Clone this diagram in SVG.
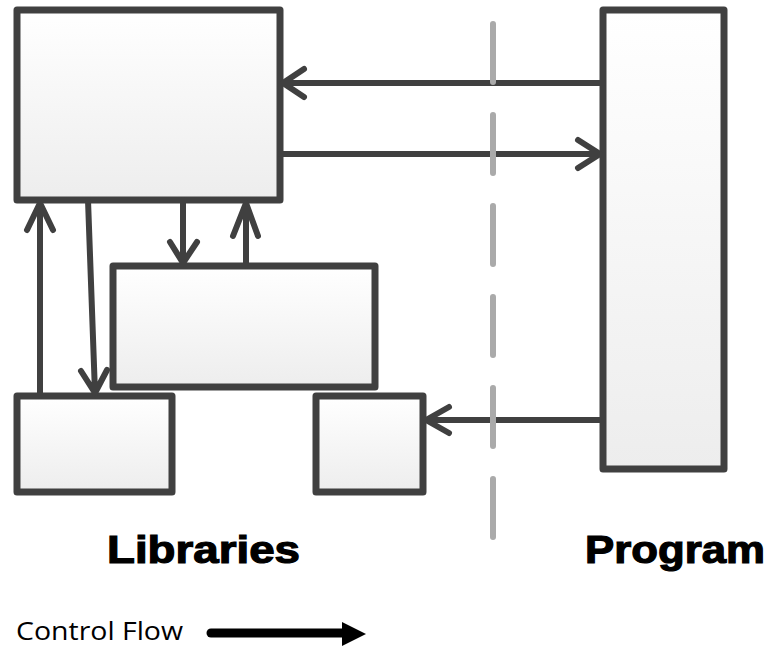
<svg xmlns="http://www.w3.org/2000/svg" width="768" height="648" viewBox="0 0 768 648">
<defs>
<linearGradient id="g" x1="0" y1="0" x2="0" y2="1">
<stop offset="0" stop-color="#ffffff"/>
<stop offset="1" stop-color="#ededed"/>
</linearGradient>
<style>
.box{fill:url(#g);stroke:#404040;stroke-width:7;stroke-linejoin:round}
.ln{fill:none;stroke:#404040;stroke-width:6;stroke-linecap:round;stroke-linejoin:round}
.dash{fill:none;stroke:#aaaaaa;stroke-width:6;stroke-linecap:round;stroke-dasharray:58 33}
.big{font-family:"Liberation Sans",Arial,sans-serif;font-weight:bold;font-size:39px;fill:#000;stroke:#000;stroke-width:1.2}
.leg{font-family:"Open Sans","Noto Sans",sans-serif;font-size:25px;fill:#000}
</style>
</defs>
<rect width="768" height="648" fill="#ffffff"/>
<g id="lib-main"><rect class="box" x="17" y="10" width="263" height="190"/></g>
<g id="lib-mid"><rect class="box" x="113" y="266" width="262" height="121"/></g>
<g id="lib-bl"><rect class="box" x="17" y="396" width="155" height="96"/></g>
<g id="lib-br"><rect class="box" x="316" y="396" width="107" height="96"/></g>
<g id="program"><rect class="box" x="603" y="10" width="121" height="459"/></g>
<g id="connectors">
<path class="ln" d="M603 83H283M304 69L283 83L304 97"/>
<path class="ln" d="M280 154H600M578 140L600 154L578 168"/>
<path class="ln" d="M603 420H426M449 407L426 420L449 433"/>
<path class="ln" d="M40 396V203M27 230L40 203L53 230"/>
<path class="ln" d="M88 200L95 393M81 371L95 393L107 370"/>
<path class="ln" d="M183 200V263M170 242L183 263L197 242"/>
<path class="ln" d="M246 266V203M233 236L246 203L258 236"/>
</g>
<g id="divider"><line class="dash" x1="493" y1="24" x2="493" y2="542"/></g>
<g id="labels">
<text class="big" x="107" y="563" textLength="193" lengthAdjust="spacingAndGlyphs">Libraries</text>
<text class="big" x="585" y="563" textLength="180" lengthAdjust="spacingAndGlyphs">Program</text>
</g>
<g id="legend">
<text class="leg" x="16" y="640" textLength="167" lengthAdjust="spacingAndGlyphs">Control Flow</text>
<line x1="211" y1="633" x2="348" y2="633" stroke="#000" stroke-width="9" stroke-linecap="round"/>
<polygon points="342,622 366,634 342,646" fill="#000"/>
</g>
</svg>
